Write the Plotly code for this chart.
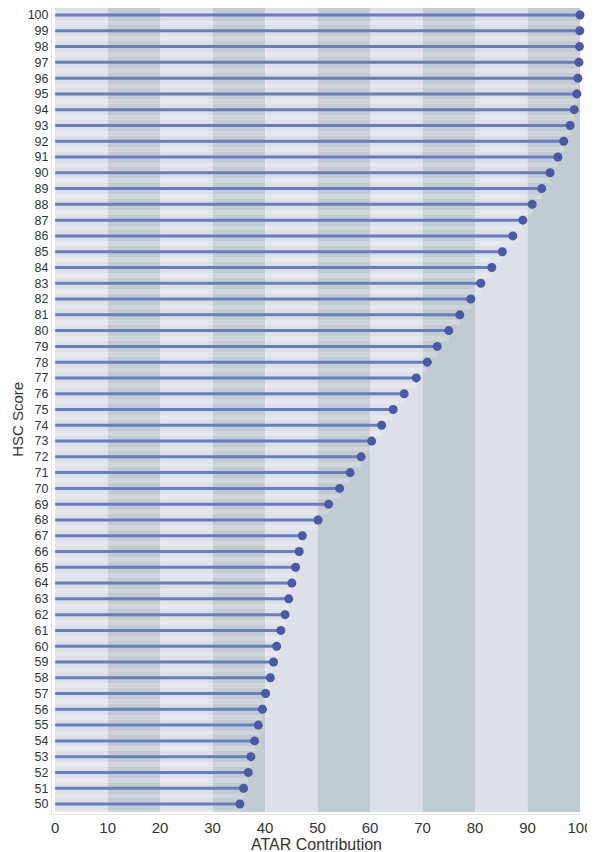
import plotly.graph_objects as go

# HSC score -> ATAR contribution
hsc_scores = list(range(50, 101))
atar_contrib = [
    35.2, 35.9, 36.8, 37.3, 38.0, 38.7, 39.5, 40.1, 41.0, 41.6,   # 50-59
    42.2, 43.0, 43.8, 44.5, 45.1, 45.8, 46.5, 47.1, 50.1, 52.1,   # 60-69
    54.2, 56.2, 58.3, 60.3, 62.2, 64.4, 66.5, 68.8, 70.9, 72.8,   # 70-79
    75.0, 77.1, 79.2, 81.1, 83.2, 85.2, 87.2, 89.1, 90.9, 92.7,   # 80-89
    94.3, 95.8, 96.9, 98.1, 98.9, 99.4, 99.6, 99.8, 99.9, 99.95,  # 90-99
    100.0,                                                        # 100
]
x_ticks = list(range(0, 101, 10))

LINE_C = "#6b7bc2"
DOT_C = "#4a59a6"
BAND_LIGHT = "#dde1e7"
BAND_DARK = "#c2cbd0"
FONT = "Liberation Sans, Arial, sans-serif"

# stems: one segment per score, separated by gaps
stem_x, stem_y = [], []
for s, v in zip(hsc_scores, atar_contrib):
    stem_x += [0, v, None]
    stem_y += [s, s, None]

fig = go.Figure()

# faint light strip between rows (follows each stem's length)
fig.add_trace(go.Bar(
    y=hsc_scores, x=atar_contrib, orientation="h",
    width=0.3, offset=-0.65,
    marker=dict(color="rgba(255,255,255,0.22)", line_width=0),
    hoverinfo="skip", showlegend=False,
))

fig.add_trace(go.Scatter(
    x=stem_x, y=stem_y, mode="lines",
    line=dict(color=LINE_C, width=3),
    hoverinfo="skip", showlegend=False,
))

fig.add_trace(go.Scatter(
    x=atar_contrib, y=hsc_scores, mode="markers",
    marker=dict(color=DOT_C, size=9),
    cliponaxis=False, showlegend=False,
    hovertemplate="HSC %{y}: %{x}<extra></extra>",
))

# alternating vertical bands every 10 units
for i, x0 in enumerate(x_ticks[:-1]):
    fig.add_shape(
        type="rect", xref="x", yref="y",
        x0=x0, x1=x0 + 10, y0=49.5, y1=100.5,
        fillcolor=BAND_DARK if i % 2 else BAND_LIGHT,
        line_width=0, layer="below",
    )

# axis titles as annotations so they sit exactly where the original has them
fig.add_annotation(text="ATAR Contribution", xref="paper", yref="paper",
                   x=0.5, y=0, yshift=-30, showarrow=False,
                   font=dict(size=16, color="#333333"), yanchor="middle")
fig.add_annotation(text="HSC Score", xref="paper", yref="paper",
                   x=0, xshift=-34, y=0.489, textangle=-90, showarrow=False,
                   font=dict(size=15, color="#333333"), xanchor="center")

# the page body adds an 8px offset, so the figure is sized to the visible area
fig.update_layout(
    width=587, height=844,
    margin=dict(l=44, r=15, t=0, b=38, autoexpand=False),
    paper_bgcolor="white", plot_bgcolor="white",
    font=dict(family=FONT, color="#333333"),
    bargap=0,
    xaxis=dict(
        range=[-0.6, 100], tickvals=x_ticks, automargin=False,
        ticklabeloverflow="allow",
        showgrid=False, zeroline=False,
        showline=True, linecolor="#e6e8ec", linewidth=1,
        tickfont=dict(size=15), ticks="",
    ),
    yaxis=dict(
        range=[49.366, 100.444], tickvals=hsc_scores, ticktext=[str(s) for s in hsc_scores],
        automargin=False, ticklabeloverflow="allow",
        showgrid=False, zeroline=False,
        showline=True, linecolor="#dfe4ee", linewidth=1,
        tickfont=dict(size=12.5), ticks="",
    ),
)

fig.write_html("out.html")
